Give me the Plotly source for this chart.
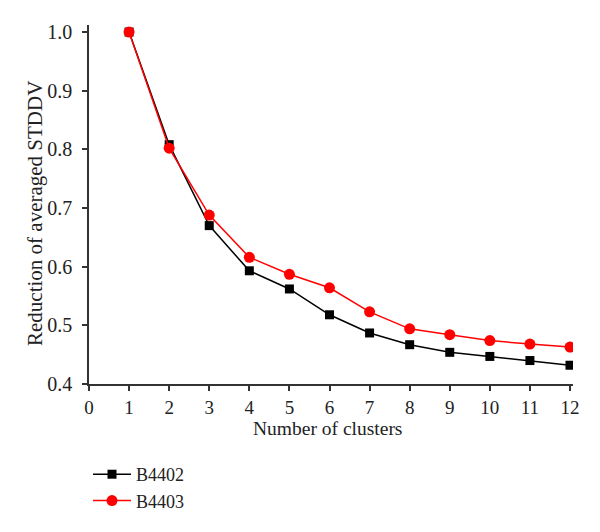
import plotly.graph_objects as go

clusters = [1, 2, 3, 4, 5, 6, 7, 8, 9, 10, 11, 12]
b4402 = [1.0, 0.808, 0.670, 0.593, 0.562, 0.518, 0.487, 0.467, 0.454, 0.447, 0.440, 0.432]
b4403 = [1.0, 0.802, 0.688, 0.616, 0.587, 0.564, 0.523, 0.494, 0.484, 0.474, 0.468, 0.463]
x_ticks = list(range(0, 13))
y_ticks = [0.4, 0.5, 0.6, 0.7, 0.8, 0.9, 1.0]
x_title = "Number of clusters"
y_title = "Reduction of averaged STDDV"

FONT = "Liberation Serif"
# page body has an 8px default margin, so the figure is drawn 8px in from the window edge
W, H = 592, 524
L, R, T, B = 81, 27, 17, 148
PW, PH = W - L - R, H - T - B

fig = go.Figure()
fig.add_trace(go.Scatter(
    x=clusters, y=b4402, name="B4402", mode="lines+markers",
    line=dict(color="#000000", width=1.5),
    marker=dict(symbol="square", size=9, color="#000000"),
))
fig.add_trace(go.Scatter(
    x=clusters, y=b4403, name="B4403", mode="lines+markers",
    line=dict(color="#ff0000", width=1.5),
    marker=dict(symbol="circle", size=11, color="#ff0000"),
))

fig.update_layout(
    width=W, height=H,
    margin=dict(l=L, r=R, t=T, b=B, autoexpand=False),
    paper_bgcolor="white", plot_bgcolor="white",
    font=dict(family=FONT, size=16, color="#222222"),
    showlegend=True,
    legend=dict(
        xref="container", yref="container",
        x=80 / W, y=1 - 448 / H, xanchor="left", yanchor="top",
        font=dict(family=FONT, size=18, color="#222222"),
        bgcolor="rgba(0,0,0,0)",
        itemwidth=38,
    ),
    xaxis=dict(
        range=[0, 12.075], tickvals=x_ticks, ticktext=[str(v) for v in x_ticks],
        showgrid=False, zeroline=False, showline=True, linecolor="#333333", linewidth=1.5,
        ticks="outside", ticklen=5, tickwidth=1.5, tickcolor="#333333",
        tickfont=dict(family=FONT, size=19, color="#222222"),
    ),
    yaxis=dict(
        range=[0.4, 1.012], tickvals=y_ticks, ticktext=["%.1f" % v for v in y_ticks],
        showgrid=False, zeroline=False, showline=True, linecolor="#333333", linewidth=1.5,
        ticks="outside", ticklen=5, tickwidth=1.5, tickcolor="#333333",
        tickfont=dict(family=FONT, size=20, color="#222222"),
        ticklabelstandoff=6,
    ),
    annotations=[
        dict(text=x_title, xref="paper", yref="paper", x=(319 - L) / PW, y=-(421 - (H - B)) / PH,
             xanchor="center", yanchor="middle", showarrow=False,
             font=dict(family=FONT, size=19.5, color="#222222")),
        dict(text=y_title, xref="paper", yref="paper", x=(27 - L) / PW, y=((H - B) - 206) / PH,
             xanchor="center", yanchor="middle", showarrow=False, textangle=-90,
             font=dict(family=FONT, size=21, color="#222222")),
    ],
)

fig.write_html("out.html")
